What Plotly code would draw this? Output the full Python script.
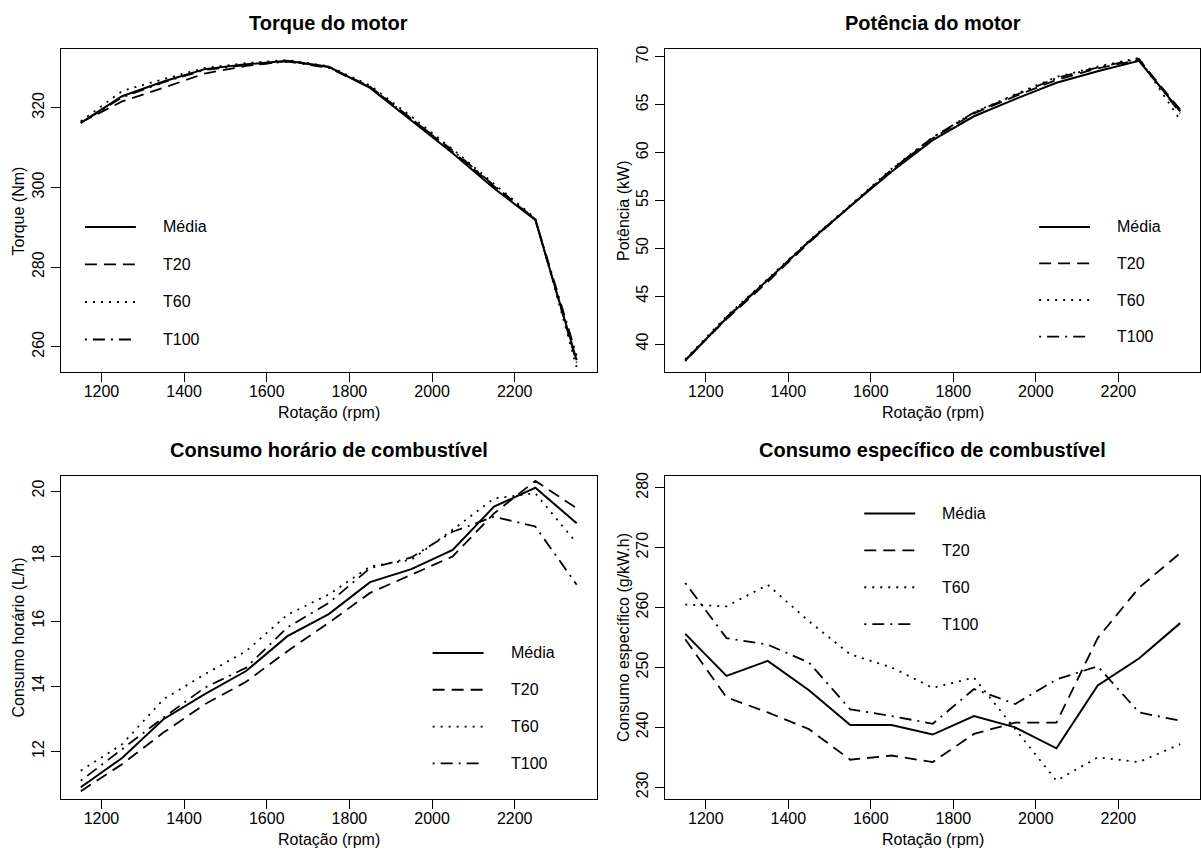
import plotly.graph_objects as go

# ---------------- data ----------------
rpm = [1150, 1250, 1350, 1450, 1550, 1650, 1750, 1850, 1950, 2050, 2150, 2250, 2350]
series_names = ["Média", "T20", "T60", "T100"]

torque_media = [316.2, 322.9, 326.6, 329.7, 330.9, 331.8, 330.3, 325.0, 316.8, 308.6, 299.8, 291.8, 256.6]
torque_t20   = [316.3, 321.6, 325.0, 328.6, 330.5, 331.7, 330.2, 325.3, 317.3, 309.0, 300.3, 292.0, 256.0]
torque_t60   = [316.6, 324.2, 327.2, 330.0, 331.2, 332.0, 330.4, 325.6, 317.8, 309.6, 300.9, 292.3, 254.8]
torque_t100  = [316.2, 322.6, 326.4, 329.5, 330.7, 331.6, 330.0, 325.2, 317.2, 309.3, 300.5, 292.0, 257.8]

power_media = [38.3, 42.7, 46.7, 50.7, 54.4, 58.0, 61.3, 63.8, 65.6, 67.3, 68.5, 69.6, 64.3]
power_t20   = [38.3, 42.6, 46.5, 50.6, 54.4, 58.2, 61.5, 64.1, 65.9, 67.6, 68.8, 69.7, 64.5]
power_t60   = [38.4, 42.9, 46.8, 50.8, 54.5, 58.3, 61.6, 64.2, 66.1, 67.9, 69.0, 69.9, 63.4]
power_t100  = [38.2, 42.8, 46.7, 50.7, 54.4, 58.2, 61.6, 64.2, 66.0, 67.8, 68.9, 69.8, 64.1]

cons_h_media = [10.90, 11.80, 12.99, 13.76, 14.47, 15.54, 16.22, 17.20, 17.60, 18.19, 19.52, 20.10, 19.01]
cons_h_t20   = [10.78, 11.61, 12.58, 13.45, 14.14, 15.08, 15.95, 16.87, 17.43, 17.99, 19.31, 20.31, 19.47]
cons_h_t60   = [11.41, 12.22, 13.60, 14.37, 15.08, 16.20, 16.82, 17.68, 17.89, 18.81, 19.77, 19.93, 18.40]
cons_h_t100  = [11.10, 12.07, 13.04, 13.96, 14.57, 15.81, 16.56, 17.63, 17.96, 18.75, 19.21, 18.91, 17.12]

cons_e_media = [255.6, 248.6, 251.1, 246.2, 240.4, 240.4, 238.8, 241.9, 240.0, 236.5, 247.0, 251.5, 257.4]
cons_e_t20   = [254.7, 245.0, 242.5, 239.7, 234.6, 235.3, 234.2, 238.9, 240.8, 240.8, 254.9, 263.3, 269.1]
cons_e_t60   = [260.5, 260.2, 263.8, 257.7, 252.2, 250.0, 246.6, 248.3, 239.7, 231.1, 235.0, 234.2, 237.2]
cons_e_t100  = [264.1, 254.9, 253.8, 250.8, 243.0, 241.9, 240.6, 246.4, 243.9, 248.0, 250.2, 242.5, 241.1]

x_ticks = [1200, 1400, 1600, 1800, 2000, 2200]
torque_ticks = [260, 280, 300, 320]
power_ticks = [40, 45, 50, 55, 60, 65, 70]
cons_h_ticks = [12, 14, 16, 18, 20]
cons_e_ticks = [230, 240, 250, 260, 270, 280]
cons_e_limits = [230, 280]

titles = ["Torque do motor", "Potência do motor",
          "Consumo horário de combustível", "Consumo específico de combustível"]
y_titles = ["Torque (Nm)", "Potência (kW)", "Consumo horário (L/h)", "Consumo específico (g/kW.h)"]
x_title = "Rotação (rpm)"

# ---------------- styling ----------------
W, H = 1201, 850
FONT = "Liberation Sans, Arial, Helvetica, sans-serif"
dashes = ["solid", "12px,7px", "2px,6px", "2px,6px,12px,6px"]
widths = [2.0, 1.8, 1.8, 1.8]


def px(x):
    return x / W


def py(y):
    return 1 - y / H


def r_range(lo, hi):
    d = hi - lo
    return [lo - 0.04 * d, hi + 0.04 * d]


# box pixel positions (left, right, top, bottom)
boxes = [
    (61, 597, 45, 370),
    (666, 1201, 45, 370),
    (61, 597, 474, 799),
    (666, 1201, 474, 799),
]

panels = [
    ([torque_media, torque_t20, torque_t60, torque_t100], torque_ticks,
     r_range(min(torque_media), max(torque_media))),
    ([power_media, power_t20, power_t60, power_t100], power_ticks,
     r_range(min(power_media), max(power_media))),
    ([cons_h_media, cons_h_t20, cons_h_t60, cons_h_t100], cons_h_ticks,
     r_range(min(cons_h_media), max(cons_h_media))),
    ([cons_e_media, cons_e_t20, cons_e_t60, cons_e_t100], cons_e_ticks,
     r_range(cons_e_limits[0], cons_e_limits[1])),
]

# legend positions: (line x0, line x1, text x, first row y, row step)
legends = [
    (85, 136, 161, 224, 37.7),
    (1040, 1091, 1116, 224, 36.7),
    (433, 484, 509, 652, 37.0),
    (865, 916, 941, 512, 37.0),
]

fig = go.Figure()
layout = dict(
    width=W, height=H,
    margin=dict(l=0, r=0, t=0, b=0),
    paper_bgcolor="white", plot_bgcolor="white",
    showlegend=False,
    font=dict(family=FONT, size=16, color="black"),
)
annotations = []
shapes = []

x_range = r_range(min(rpm), max(rpm))

for i, (ys, yt, yr) in enumerate(panels):
    n = "" if i == 0 else str(i + 1)
    xa, ya = "x" + n, "y" + n
    for s, (vals, name) in enumerate(zip(ys, series_names)):
        fig.add_trace(go.Scatter(
            x=rpm, y=vals, mode="lines", name=name,
            xaxis=xa, yaxis=ya,
            line=dict(color="black", width=widths[s], dash=dashes[s]),
        ))
    l, r, t, b = boxes[i]
    common = dict(showline=True, mirror=True, linecolor="black", linewidth=1,
                  ticks="outside", ticklen=9, tickwidth=1, tickcolor="black",
                  showgrid=False, zeroline=False,
                  tickfont=dict(family=FONT, size=16, color="black"))
    layout["xaxis" + n] = dict(domain=[px(l), px(r)], anchor=ya, range=x_range,
                               tickmode="array", tickvals=x_ticks,
                               ticklabelstandoff=-4, **common)
    layout["yaxis" + n] = dict(domain=[py(b), py(t)], anchor=xa, range=yr,
                               tickmode="array", tickvals=yt, tickangle=-90,
                               ticklabelstandoff=1, **common)
    # panel title
    annotations.append(dict(text="<b>" + titles[i] + "</b>", x=px((l + r) / 2), y=py(t - 26),
                            xref="paper", yref="paper", showarrow=False,
                            xanchor="center", yanchor="middle",
                            font=dict(family=FONT, size=20, color="black")))
    # x title
    annotations.append(dict(text=x_title, x=px((l + r) / 2), y=py(b + 40),
                            xref="paper", yref="paper", showarrow=False,
                            xanchor="center", yanchor="middle",
                            font=dict(family=FONT, size=16, color="black")))
    # y title
    annotations.append(dict(text=y_titles[i], x=px(l - 42), y=py((t + b) / 2),
                            xref="paper", yref="paper", showarrow=False, textangle=-90,
                            xanchor="center", yanchor="middle",
                            font=dict(family=FONT, size=16, color="black")))
    # legend
    lx0, lx1, tx, ry, step = legends[i]
    for s, name in enumerate(series_names):
        yy = ry + s * step
        shapes.append(dict(type="line", xref="paper", yref="paper",
                           x0=px(lx0), x1=px(lx1), y0=py(yy), y1=py(yy),
                           line=dict(color="black", width=widths[s], dash=dashes[s])))
        annotations.append(dict(text=name, x=px(tx), y=py(yy),
                                xref="paper", yref="paper", showarrow=False,
                                xanchor="left", yanchor="middle",
                                font=dict(family=FONT, size=16, color="black")))

layout["annotations"] = annotations
layout["shapes"] = shapes
fig.update_layout(**layout)
fig.write_html("out.html")
